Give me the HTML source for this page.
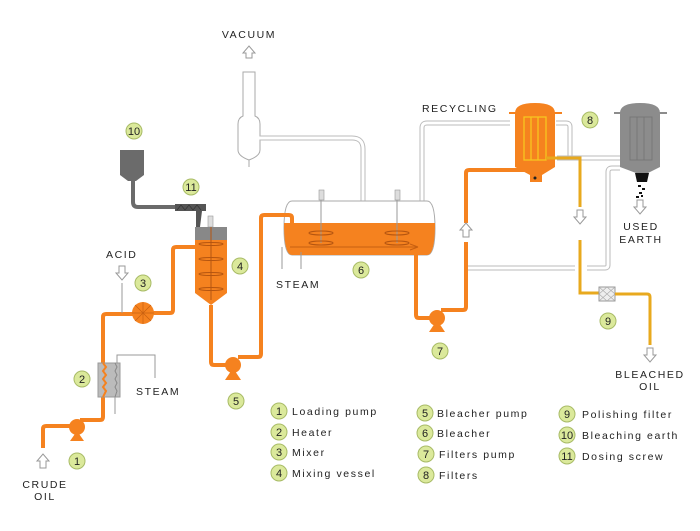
<!DOCTYPE html>
<html><head><meta charset="utf-8"><style>
html,body{margin:0;padding:0;background:#fff;}
svg{display:block;font-family:"Liberation Sans",Arial,sans-serif;}
.t{font-size:10.5px;letter-spacing:1.6px;fill:#222;}
.n{font-size:11px;fill:#222;text-anchor:middle;}
.c{fill:#dbe99b;stroke:#a8bb66;stroke-width:1;}
.op{fill:none;stroke:#f5821f;stroke-width:4;stroke-linejoin:round;}
.gp{fill:none;stroke:#bbb;stroke-width:5;}
.gpi{fill:none;stroke:#fff;stroke-width:3;}
.yp{fill:none;stroke:#e8a91e;stroke-width:3;}
.thin{fill:none;stroke:#999;stroke-width:1;}
</style></head><body>
<svg width="700" height="531" viewBox="0 0 700 531">
<!-- Vacuum -->
<text class="t" x="249" y="38" text-anchor="middle">VACUUM</text>
<path d="M246 58 v-5 h-3 l6 -7 6 7 h-3 v5z" fill="#fff" stroke="#999"/>
<path d="M243 72 h12 v44 q5 2 5 8 v26 q0 6 -11 10 q-11 -4 -11 -10 v-26 q0 -6 5 -8z" fill="#fff" stroke="#aaa"/>
<line x1="249" y1="160" x2="249" y2="167" stroke="#aaa"/>
<path class="gp" d="M260 138 h92 q11 0 11 11 v53"/>
<path class="gpi" d="M259 138 h93 q11 0 11 11 v54"/>
<!-- recycling -->
<text class="t" x="422" y="112">RECYCLING</text>
<path class="gp" d="M422 202 v-74 q0 -5 5 -5 h83"/>
<path class="gpi" d="M422 203 v-75 q0 -5 5 -5 h83"/>
<path class="gp" d="M556 123 h10 q4 0 4 4 v31"/>
<path class="gpi" d="M556 123 h10 q4 0 4 4 v31"/>
<path class="gp" d="M557 158 h64"/><path class="gpi" d="M557 158 h64"/>
<path class="gp" d="M620 168 h-8 q-4 0 -4 4 v93 q0 3 -3 3 h-18 M575 268 h-109"/>
<path class="gpi" d="M620 168 h-8 q-4 0 -4 4 v93 q0 3 -3 3 h-18 M575 268 h-109"/>
<!-- Bleacher 6 -->
<path d="M292 201 h135 q8 0 8 27 q0 27 -8 27 h-135 q-8 0 -8 -27 q0 -27 8 -27z" fill="#fff" stroke="#aaa"/>
<path d="M284 223 h151 q0 32 -8 32 h-135 q-8 0 -8 -32z" fill="#f5821f"/>
<line x1="290" y1="247" x2="418" y2="247" stroke="#c86010"/>
<path d="M418 247 l-8 -3 M418 247 l-8 3" stroke="#c86010"/>
<g stroke="#999"><line x1="321" y1="200" x2="321" y2="243"/><line x1="397" y1="200" x2="397" y2="243"/></g>
<rect x="319" y="190" width="5" height="10" fill="#ddd" stroke="#999" stroke-width=".6"/>
<rect x="395" y="190" width="5" height="10" fill="#ddd" stroke="#999" stroke-width=".6"/>
<g fill="none" stroke="#b55510"><ellipse cx="321" cy="233" rx="12" ry="2"/><ellipse cx="321" cy="243" rx="12" ry="2"/><ellipse cx="397" cy="233" rx="12" ry="2"/><ellipse cx="397" cy="243" rx="12" ry="2"/></g>
<path class="thin" d="M282 247 v22 M301 252 v17"/>
<text class="t" x="276" y="288">STEAM</text>
<!-- Orange pipes -->
<path class="op" d="M43 448 v-19 q0 -3 3 -3 h30"/>
<path class="op" d="M80 420 h20 q3 0 3 -3 v-100 q0 -3 3 -3 h36"/>
<path class="op" d="M150 313 h20 q3 0 3 -3 v-60 q0 -3 3 -3 h20"/>
<path class="op" d="M211 305 v57 q0 3 3 3 h20"/>
<path class="op" d="M238 357 h20 q3 0 3 -3 v-136 q0 -3 3 -3 h25 q3 0 3 3 v7"/>
<path class="op" d="M416 251 v64 q0 3 3 3 h18"/>
<path class="op" d="M441 310 h22 q3 0 3 -3 v-65 M466 223 v-50 q0 -3 3 -3 h56"/>
<path d="M463 237 v-7 h-3 l6 -7 6 7 h-3 v7z" fill="#fff" stroke="#999"/>
<!-- heater -->
<path class="thin" d="M117 363 v-8 h38 v23"/>
<rect x="98" y="363" width="22" height="34" fill="#bbb" stroke="#999"/>
<path d="M103 363 l3 4 -3 4 3 4 -3 4 3 4 -3 4 3 4 -3 6" fill="none" stroke="#f5821f" stroke-width="2"/>
<path d="M115 363 l2 4 -2 4 2 4 -2 4 2 4 -2 4 2 4 -2 6" fill="none" stroke="#888" stroke-width="1"/>
<line x1="115" y1="397" x2="115" y2="414" stroke="#999"/>
<text class="t" x="136" y="395">STEAM</text>
<!-- pumps -->
<g fill="#f5821f">
<circle cx="77" cy="427" r="8"/><path d="M70 441 l7 -10 7 10z"/>
<circle cx="233" cy="365" r="8"/><path d="M225 380 l8 -12 8 12z"/>
<circle cx="437" cy="318" r="8"/><path d="M429 332 l8 -12 8 12z"/>
</g>
<!-- mixer 3 -->
<circle cx="143" cy="313" r="11" fill="#f5821f"/>
<g stroke="#c86010" stroke-width=".7"><line x1="132" y1="313" x2="154" y2="313"/><line x1="143" y1="302" x2="143" y2="324"/><line x1="135" y1="305" x2="151" y2="321"/><line x1="151" y1="305" x2="135" y2="321"/></g>
<text class="t" x="106" y="258">ACID</text>
<path d="M119 266 v7 h-3 l6 7 6 -7 h-3 v-7z" fill="#fff" stroke="#999"/>
<line x1="122" y1="283" x2="122" y2="313" stroke="#999"/>
<!-- vessel 4 -->
<rect x="208" y="216" width="5" height="11" fill="#ddd" stroke="#999" stroke-width=".6"/>
<rect x="195" y="227" width="32" height="13" fill="#888"/>
<path d="M195 240 h32 v53 l-16 12 -16 -12z" fill="#f5821f"/>
<line x1="211" y1="227" x2="211" y2="300" stroke="#b55510"/>
<g fill="none" stroke="#b55510"><ellipse cx="211" cy="244" rx="12" ry="1.5"/><ellipse cx="211" cy="259" rx="12" ry="1.5"/><ellipse cx="211" cy="274" rx="12" ry="1.5"/><ellipse cx="211" cy="289" rx="12" ry="1.5"/></g>
<!-- hopper & screw -->
<path d="M120 150 h24 v25 l-8 6 h-8 l-8 -6z" fill="#6b6b6b"/>
<path d="M133 180 v22 q0 5 5 5 h40" fill="none" stroke="#6b6b6b" stroke-width="4"/>
<rect x="175" y="204" width="31" height="7" fill="#555"/>
<path d="M177 210 l4 -5 4 5 4 -5 4 5 4 -5 4 5" fill="none" stroke="#333" stroke-width=".7"/>
<path d="M196 211 h6 l-2 16 h-4z" fill="#555"/>
<!-- filter 8 -->
<path d="M515 113 q0 -10 20 -10 q20 0 20 10 v54 l-13 8 v7 h-12 v-7 l-15 -8z" fill="#f5821f"/>
<rect x="509" y="112" width="53" height="2" fill="#f5821f"/>
<rect x="524" y="117" width="22" height="43" fill="none" stroke="#f7c520" stroke-width="1.3"/>
<line x1="531" y1="117" x2="531" y2="160" stroke="#f7c520" stroke-width="1.3"/>
<line x1="538" y1="117" x2="538" y2="160" stroke="#f7c520" stroke-width="1.3"/>
<circle cx="535" cy="178" r="1.5" fill="#222"/>
<path class="yp" d="M546 158 h34 v49 M580 240 v53 h20"/>
<path d="M577 210 v7 h-3 l6 7 6 -7 h-3 v-7z" fill="#fff" stroke="#999"/>
<rect x="599" y="287" width="16" height="14" fill="#eee" stroke="#999"/>
<path d="M599 287 l16 14 M607 287 l8 7 M599 294 l8 7 M615 287 l-16 14 M607 287 l-8 7 M615 294 l-8 7" stroke="#aaa" stroke-width=".6"/>
<path class="yp" d="M615 294 h32 q3 0 3 3 v48"/>
<path d="M647 348 v7 h-3 l6 7 6 -7 h-3 v-7z" fill="#fff" stroke="#999"/>
<text class="t" x="650" y="378" text-anchor="middle">BLEACHED</text>
<text class="t" x="650" y="390" text-anchor="middle">OIL</text>
<!-- gray filter -->
<path d="M620 113 q0 -10 20 -10 q20 0 20 10 v54 l-12 6 h-12 l-16 -6z" fill="#8c8c8c"/>
<rect x="614" y="112" width="53" height="2" fill="#8c8c8c"/>
<rect x="630" y="117" width="22" height="43" fill="none" stroke="#777" stroke-width="1"/>
<line x1="637" y1="117" x2="637" y2="160" stroke="#777"/><line x1="644" y1="117" x2="644" y2="160" stroke="#777"/>
<path d="M635 173 h14 l-2 9 h-10z" fill="#111"/>
<g fill="#111"><rect x="638" y="185" width="3" height="2"/><rect x="642" y="188" width="3" height="2"/><rect x="639" y="192" width="3" height="2"/><rect x="636" y="196" width="3" height="2"/><rect x="641" y="195" width="2" height="2"/></g>
<path d="M637 200 v7 h-3 l6 7 6 -7 h-3 v-7z" fill="#fff" stroke="#999"/>
<text class="t" x="641" y="230" text-anchor="middle">USED</text>
<text class="t" x="641" y="243" text-anchor="middle">EARTH</text>
<!-- crude -->
<path d="M40 468 v-7 h-3 l6 -7 6 7 h-3 v7z" fill="#fff" stroke="#999"/>
<text class="t" x="45" y="488" text-anchor="middle">CRUDE</text>
<text class="t" x="45" y="500" text-anchor="middle">OIL</text>
<!-- number labels -->
<g>
<circle class="c" cx="77" cy="461" r="8"/><text class="n" x="77" y="465">1</text>
<circle class="c" cx="82" cy="379" r="8"/><text class="n" x="82" y="383">2</text>
<circle class="c" cx="143" cy="283" r="8"/><text class="n" x="143" y="287">3</text>
<circle class="c" cx="240" cy="266" r="8"/><text class="n" x="240" y="270">4</text>
<circle class="c" cx="236" cy="401" r="8"/><text class="n" x="236" y="405">5</text>
<circle class="c" cx="361" cy="270" r="8"/><text class="n" x="361" y="274">6</text>
<circle class="c" cx="440" cy="351" r="8"/><text class="n" x="440" y="355">7</text>
<circle class="c" cx="590" cy="120" r="8"/><text class="n" x="590" y="124">8</text>
<circle class="c" cx="608" cy="321" r="8"/><text class="n" x="608" y="325">9</text>
<circle class="c" cx="134" cy="131" r="8"/><text class="n" x="134" y="135">10</text>
<circle class="c" cx="191" cy="187" r="8"/><text class="n" x="191" y="191">11</text>
</g>
<!-- legend -->
<g>
<circle class="c" cx="279" cy="411" r="8"/><text class="n" x="279" y="415">1</text><text class="t" x="292" y="415">Loading pump</text>
<circle class="c" cx="279" cy="432" r="8"/><text class="n" x="279" y="436">2</text><text class="t" x="292" y="436">Heater</text>
<circle class="c" cx="279" cy="452" r="8"/><text class="n" x="279" y="456">3</text><text class="t" x="292" y="456">Mixer</text>
<circle class="c" cx="279" cy="473" r="8"/><text class="n" x="279" y="477">4</text><text class="t" x="292" y="477">Mixing vessel</text>
<circle class="c" cx="425" cy="413" r="8"/><text class="n" x="425" y="417">5</text><text class="t" x="437" y="417">Bleacher pump</text>
<circle class="c" cx="425" cy="433" r="8"/><text class="n" x="425" y="437">6</text><text class="t" x="437" y="437">Bleacher</text>
<circle class="c" cx="426" cy="454" r="8"/><text class="n" x="426" y="458">7</text><text class="t" x="439" y="458">Filters pump</text>
<circle class="c" cx="426" cy="475" r="8"/><text class="n" x="426" y="479">8</text><text class="t" x="439" y="479">Filters</text>
<circle class="c" cx="567" cy="414" r="8"/><text class="n" x="567" y="418">9</text><text class="t" x="582" y="418">Polishing filter</text>
<circle class="c" cx="567" cy="435" r="8"/><text class="n" x="567" y="439">10</text><text class="t" x="582" y="439">Bleaching earth</text>
<circle class="c" cx="567" cy="456" r="8"/><text class="n" x="567" y="460">11</text><text class="t" x="582" y="460">Dosing screw</text>
</g>
</svg>
</body></html>
